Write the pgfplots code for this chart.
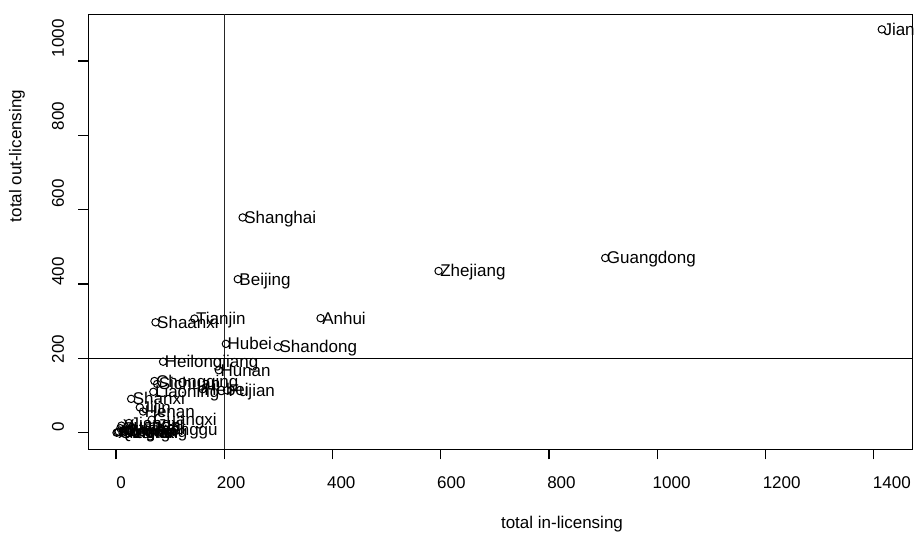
\documentclass[border=0pt]{standalone}
\usepackage{fontspec}
\setmainfont{Liberation Sans}
\usepackage{pgfplots}
\pgfplotsset{compat=1.18}
\usepackage{pgfplotstable}
\pgfplotstableread{
name x y
Jiangsu 1415 1085
Guangdong 904 470
Zhejiang 596 435
Shanghai 234 579
Beijing 225 413
Anhui 378 308
Tianjin 145 307
Shaanxi 73 297
Hubei 203 239
Shandong 299 231
Heilongjiang 87 191
Hunan 190 168
Chongqing 71 139
Sichuan 76 131
Hebei 160 117
Fujian 205 114
Liaoning 69 110
Shanxi 28 91
Jilin 44 68
Henan 50 57
Guangxi 66 35
Jiangxi 24 26
Neimenggu 24 8
Yunnan 10 19
Guizhou 8 12
Gansu 14 6
Xinjiang 17 3
Ningxia 5 3
Qinghai 3 1
Xizang 1 0
Hainan 12 0
}\provdata
\begin{document}
\fontsize{8.5}{10}\selectfont
\begin{tikzpicture}
\useasboundingbox (-44.15pt,-43.35pt) rectangle (413.35pt,224.65pt);
\begin{axis}[
  scale only axis,
  width=412.2pt, height=217.5pt,
  xmin=-51.2, xmax=1472.1,
  ymin=-44.7, ymax=1125.6,
  axis line style={line width=0.6pt},
  tick style={line width=0.6pt, black},
  major tick length=5pt,
  tick align=outside,
  xtick pos=bottom, ytick pos=left,
  xtick={0,200,...,1400}, ytick={0,200,...,1000},
  xticklabels={,,,,,,,}, yticklabels={,,,,,},
  extra x ticks={9.24,212.7,416.2,619.6,823.1,1026.6,1230,1433.5},
  extra x tick labels={0,200,400,600,800,1000,1200,1400},
  extra x tick style={major tick length=0pt, tick label style={anchor=base, yshift=-19.7pt, inner sep=0pt}},
  extra y ticks={16.1,225.2,434.2,643.1,852.1,1061.1},
  extra y tick labels={0,200,400,600,800,1000},
  extra y tick style={major tick length=0pt, tick label style={xshift=-12.15pt, rotate=90, anchor=base, inner sep=0pt}},
  /pgf/number format/assume math mode=true,
  xlabel={total in-licensing},
  ylabel={total out-licensing},
  xlabel style={at={(axis description cs:0.5746,-0.1832)}, anchor=base, inner sep=0pt},
  ylabel style={at={(axis description cs:-0.0812,0.6743)}, anchor=base, inner sep=0pt},
]
\addplot[black!85, line width=0.6pt] coordinates {(200,-44.7) (200,1125.6)};
\addplot[black, line width=0.6pt] coordinates {(-51.2,200) (1472.1,200)};
\addplot[only marks, mark=o, mark size=1.85pt, mark options={line width=0.5pt, black},
  nodes near coords, point meta=explicit symbolic,
  nodes near coords style={anchor=base west, inner sep=0pt, xshift=0.6pt, yshift=-3pt, text=black}]
  table[x=x, y=y, meta=name] {\provdata};
\end{axis}
\end{tikzpicture}
\end{document}
